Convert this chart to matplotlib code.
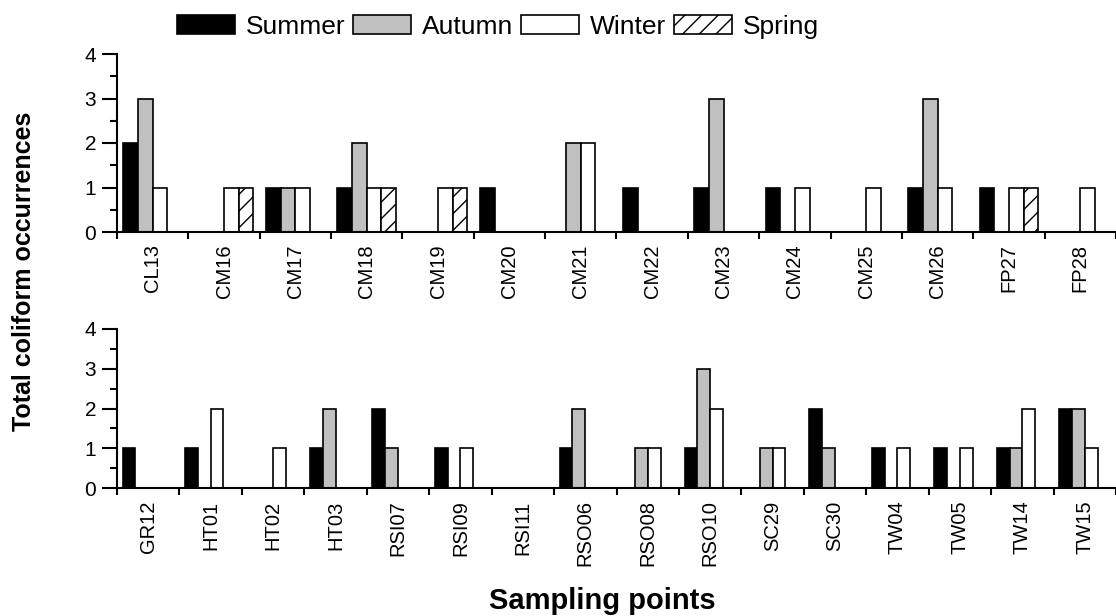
# occurrences of total coliform per sampling point and season
import numpy as np
import matplotlib
matplotlib.use('Agg')
import matplotlib.pyplot as plt
from matplotlib.patches import Patch

plt.rcParams['font.family'] = ['Liberation Sans', 'DejaVu Sans']
plt.rcParams['hatch.linewidth'] = 1.0

seasons = ['Summer', 'Autumn', 'Winter', 'Spring']
colors = ['#000000', '#c0c0c0', '#ffffff', '#ffffff']
hatches = [None, None, None, '//']

# top panel
points_top = ['CL13', 'CM16', 'CM17', 'CM18', 'CM19', 'CM20', 'CM21',
              'CM22', 'CM23', 'CM24', 'CM25', 'CM26', 'FP27', 'FP28']
summer_top = [2, 0, 1, 1, 0, 1, 0, 1, 1, 1, 0, 1, 1, 0]
autumn_top = [3, 0, 1, 2, 0, 0, 2, 0, 3, 0, 0, 3, 0, 0]
winter_top = [1, 1, 1, 1, 1, 0, 2, 0, 0, 1, 1, 1, 1, 1]
spring_top = [0, 1, 0, 1, 1, 0, 0, 0, 0, 0, 0, 0, 1, 0]

# bottom panel
points_bot = ['GR12', 'HT01', 'HT02', 'HT03', 'RSI07', 'RSI09', 'RSI11', 'RSO06',
              'RSO08', 'RSO10', 'SC29', 'SC30', 'TW04', 'TW05', 'TW14', 'TW15']
summer_bot = [1, 1, 0, 1, 2, 1, 0, 1, 0, 1, 0, 2, 1, 1, 1, 2]
autumn_bot = [0, 0, 0, 2, 1, 0, 0, 2, 1, 3, 1, 1, 0, 0, 1, 2]
winter_bot = [0, 2, 1, 0, 0, 1, 0, 0, 1, 2, 1, 0, 1, 1, 2, 1]
spring_bot = [0, 0, 0, 0, 0, 0, 0, 0, 0, 0, 0, 0, 0, 0, 0, 0]

W, H = 1116, 616
fig = plt.figure(figsize=(W / 100, H / 100), dpi=100)

def px_axes(left, top, right, bottom):
    return fig.add_axes([left / W, 1 - bottom / H, (right - left) / W, (bottom - top) / H])

ax1 = px_axes(117, 54, 1116, 232)
ax2 = px_axes(117, 329, 1116, 488)

bw = 0.205

def draw(ax, names, series):
    x = np.arange(len(names))
    for k, vals in enumerate(series):
        ax.bar(x + (k - 1.5) * bw, vals, width=bw, color=colors[k],
               edgecolor='black', linewidth=1.2, hatch=hatches[k], zorder=2)
    ax.set_xlim(-0.5, len(names) - 0.5)
    ax.set_ylim(0, 4)
    ax.set_xticks(x)
    ax.set_xticklabels(names, rotation=90, fontsize=14.5)
    ax.set_xticks(np.arange(len(names) + 1) - 0.5, minor=True)
    ax.tick_params(axis='x', which='major', length=0, pad=9)
    ax.tick_params(axis='x', which='minor', length=5, width=1.5, direction='out')
    ax.set_yticks([0, 1, 2, 3, 4])
    ax.set_yticks([0.5, 1.5, 2.5, 3.5], minor=True)
    ax.tick_params(axis='y', which='major', length=11, width=1.5, labelsize=15, pad=4)
    ax.tick_params(axis='y', which='minor', length=5, width=1.5)
    for s in ['top', 'right']:
        ax.spines[s].set_visible(False)
    for s in ['left', 'bottom']:
        ax.spines[s].set_linewidth(1.5)
    ax.patch.set_alpha(0)

draw(ax1, points_top, [summer_top, autumn_top, winter_top, spring_top])
draw(ax2, points_bot, [summer_bot, autumn_bot, winter_bot, spring_bot])

handles = [Patch(facecolor=colors[k], edgecolor='black', linewidth=1.2,
                 hatch=hatches[k], label=seasons[k]) for k in range(4)]
fig.legend(handles=handles, loc='center', bbox_to_anchor=(498 / W, 1 - 27 / H),
           ncol=4, frameon=False, fontsize=19, handlelength=2.2, handleheight=0.75,
           handletextpad=0.4, columnspacing=0.3)

fig.text(24 / W, 1 - 271 / H, 'Total coliform occurrences', rotation=90,
         ha='center', va='center', fontsize=18, fontweight='bold')
fig.text(602 / W, 1 - 615 / H, 'Sampling points', ha='center', va='bottom',
         fontsize=21, fontweight='bold')

fig.savefig('out.png', dpi=100)
